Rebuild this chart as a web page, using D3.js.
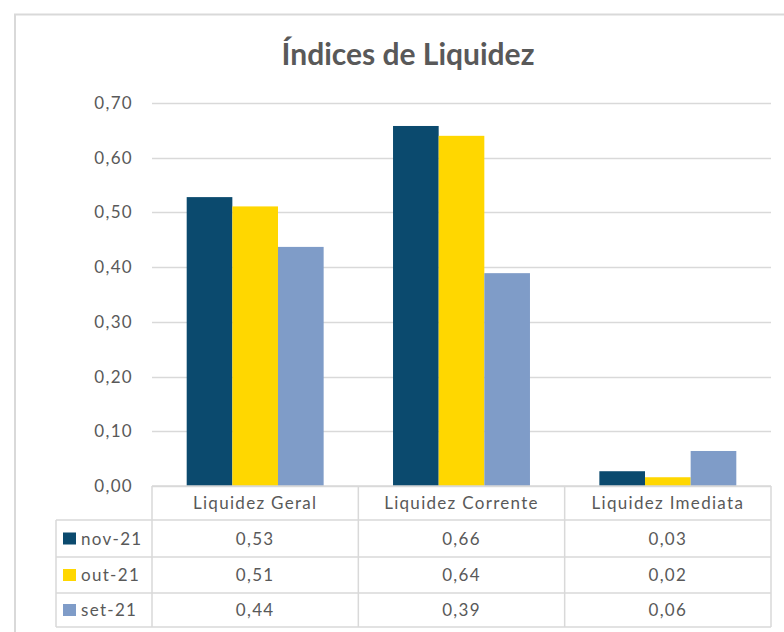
<!DOCTYPE html>
<html>
<head>
<meta charset="utf-8">
<script src="https://cdn.jsdelivr.net/npm/d3@7"></script>
<style>
body { margin: 0; background: white; }
text { font-family: Lato, "Open Sans", sans-serif; fill: #595959; }
.lbl { font-size: 17px; letter-spacing: 1.3px; }
</style>
</head>
<body>
<svg></svg>
<script>
var w = 784
var h = 632

// data
var categories = ["Liquidez Geral", "Liquidez Corrente", "Liquidez Imediata"]
var seriesNames = ["nov-21", "out-21", "set-21"]
var nov21 = [0.528, 0.658, 0.027]
var out21 = [0.511, 0.640, 0.016]
var set21 = [0.437, 0.389, 0.064]
var tableLabels = [["0,53", "0,66", "0,03"], ["0,51", "0,64", "0,02"], ["0,44", "0,39", "0,06"]]
var yTicks = [0, 0.1, 0.2, 0.3, 0.4, 0.5, 0.6, 0.7]
var colors = ["#0B4A6E", "#FFD700", "#7F9CC8"]

var series = [nov21, out21, set21]

var svg = d3.select("svg")
	.attr("width", w)
	.attr("height", h)

// chart area border
svg.append("rect")
	.attr("x", 15)
	.attr("y", 14.5)
	.attr("width", 800)
	.attr("height", 640)
	.attr("fill", "white")
	.attr("stroke", "#D9D9D9")
	.attr("stroke-width", 2)

svg.append("text")
	.attr("x", 408)
	.attr("y", 65)
	.attr("text-anchor", "middle")
	.style("font-size", "30px")
	.style("font-weight", "bold")
	.text("Índices de Liquidez")

var plotLeft = 152, plotRight = 771, plotTop = 103, plotBottom = 486

var x = d3.scaleBand()
	.domain(categories)
	.range([plotLeft, plotRight])

var y = d3.scaleLinear()
	.domain([0, 0.7])
	.range([plotBottom, plotTop])

var xInner = d3.scaleBand()
	.domain(d3.range(series.length))
	.range([0, x.bandwidth()])
	.paddingOuter(0.76)

// gridlines
svg.append("g")
	.selectAll("line")
	.data(yTicks)
	.join("line")
	.attr("x1", plotLeft)
	.attr("x2", plotRight)
	.attr("y1", function(d){ return Math.round(y(d)) + 0.5 })
	.attr("y2", function(d){ return Math.round(y(d)) + 0.5 })
	.attr("stroke", "#D9D9D9")
	.attr("stroke-width", 1.3)

svg.append("g")
	.selectAll("text")
	.data(yTicks)
	.join("text")
	.attr("class", "lbl")
	.attr("x", 133)
	.attr("y", function(d){ return y(d) + 6 })
	.attr("text-anchor", "end")
	.text(function(d){ return d3.format(".2f")(d).replace(".", ",") })

// bars
series.forEach(function(vals, s){
	svg.append("g")
		.selectAll("rect")
		.data(vals)
		.join("rect")
		.attr("x", function(d, i){ return x(categories[i]) + xInner(s) })
		.attr("width", xInner.bandwidth())
		.attr("y", function(d){ return y(d) })
		.attr("height", function(d){ return plotBottom - y(d) })
		.attr("fill", colors[s])
})

// data table
var rowEdges = [486, 520, 557, 593, 627]
var tableLeft = 56
var grid = svg.append("g")
	.attr("stroke", "#D9D9D9")
	.attr("stroke-width", 1.5)

// horizontal lines
rowEdges.forEach(function(r, i){
	grid.append("line")
		.attr("x1", i == 0 ? plotLeft : tableLeft)
		.attr("x2", plotRight)
		.attr("y1", r)
		.attr("y2", r)
})
// vertical lines
grid.append("line").attr("x1", tableLeft).attr("x2", tableLeft).attr("y1", rowEdges[1]).attr("y2", rowEdges[4])
var colEdges = [plotLeft].concat(categories.map(function(c){ return x(c) + x.bandwidth() }))
colEdges.forEach(function(c){
	grid.append("line").attr("x1", c).attr("x2", c).attr("y1", rowEdges[0]).attr("y2", rowEdges[4])
})

// header row
svg.append("g")
	.selectAll("text")
	.data(categories)
	.join("text")
	.attr("class", "lbl")
	.attr("x", function(d){ return x(d) + x.bandwidth() / 2 })
	.attr("y", (rowEdges[0] + rowEdges[1]) / 2 + 6)
	.attr("text-anchor", "middle")
	.text(function(d){ return d })

// series rows
seriesNames.forEach(function(name, s){
	var cy = (rowEdges[s + 1] + rowEdges[s + 2]) / 2
	svg.append("rect")
		.attr("x", 63)
		.attr("y", cy - 6)
		.attr("width", 13)
		.attr("height", 12)
		.attr("fill", colors[s])
	svg.append("text")
		.attr("class", "lbl")
		.attr("x", 81)
		.attr("y", cy + 6)
		.text(name)
	svg.append("g")
		.selectAll("text")
		.data(tableLabels[s])
		.join("text")
		.attr("class", "lbl")
		.attr("x", function(d, i){ return x(categories[i]) + x.bandwidth() / 2 })
		.attr("y", cy + 6)
		.attr("text-anchor", "middle")
		.text(function(d){ return d })
})
</script>
</body>
</html>
